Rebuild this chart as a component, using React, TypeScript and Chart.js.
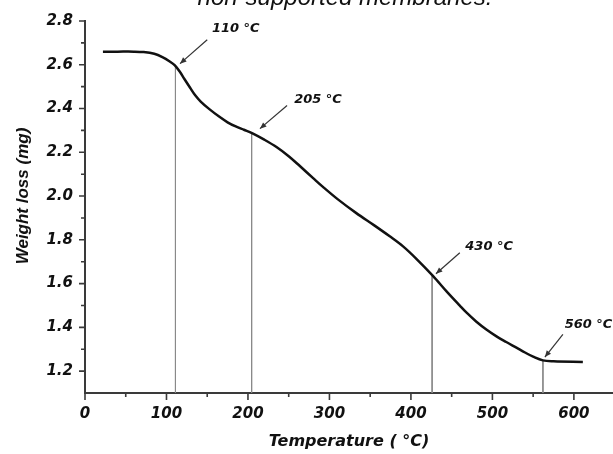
import React, { useEffect, useRef } from "react";
import { Chart, registerables } from "chart.js";

Chart.register(...registerables);

// TGA curve (temperature in °C, weight in mg)
const temperature = [22, 40, 60, 72, 85, 95, 104, 110, 116, 122, 129, 135, 142, 153, 165, 175, 185, 195, 205, 220, 235, 250, 264, 280, 292, 310, 333, 355, 374, 390, 407, 427, 444, 460, 468, 480, 493, 505, 517, 530, 540, 550, 562, 575, 611];
const weight = [2.66, 2.66, 2.66, 2.658, 2.65, 2.635, 2.615, 2.598, 2.57, 2.535, 2.495, 2.462, 2.432, 2.396, 2.362, 2.337, 2.318, 2.303, 2.288, 2.258, 2.224, 2.182, 2.136, 2.082, 2.042, 1.986, 1.922, 1.866, 1.816, 1.771, 1.712, 1.635, 1.563, 1.499, 1.468, 1.427, 1.389, 1.359, 1.333, 1.306, 1.285, 1.266, 1.249, 1.245, 1.242];

// Marked transition temperatures
const markerTemps = [111, 204.5, 426, 562];
const markerWeights = [2.598, 2.288, 1.635, 1.249];
const markerLabels = ["110 °C", "205 °C", "430 °C", "560 °C"];
const labelTemps = [185, 286, 496, 618];
const labelWeights = [2.764, 2.441, 1.768, 1.414];
const arrowTailTemps = [150, 248, 460, 586.5];
const arrowTailWeights = [2.714, 2.414, 1.741, 1.368];
const arrowHeadTemps = [116.6, 214.7, 430.7, 564.4];
const arrowHeadWeights = [2.605, 2.308, 1.645, 1.264];

// Axes
const xMajorTicks = [0, 100, 200, 300, 400, 500, 600];
const xMinorTicks = [50, 150, 250, 350, 450, 550];
const yMajorTicks = [1.2, 1.4, 1.6, 1.8, 2.0, 2.2, 2.4, 2.6, 2.8];
const yMinorTicks = [1.3, 1.5, 1.7, 1.9, 2.1, 2.3, 2.5, 2.7];
const xMin = 0;
const xMax = 648;
const yMin = 1.1;
const yMax = 2.8;

const titleText = "non-supported membranes.";
const xTitleText = "Temperature ( °C)";
const yTitleText = "Weight loss (mg)";

const AXIS_COLOR = "#3a3a3a";
const TICK_FONT = { family: "DejaVu Sans", size: 15, weight: "bold" as const, style: "italic" as const };

const decorPlugin = {
  id: "decor",
  afterDraw(chart: any) {
    const ctx = chart.ctx as CanvasRenderingContext2D;
    const xs = chart.scales.x;
    const ys = chart.scales.y;
    const area = chart.chartArea;
    ctx.save();

    // tick marks
    ctx.strokeStyle = AXIS_COLOR;
    ctx.lineWidth = 1.6;
    ctx.beginPath();
    xMajorTicks.forEach((v) => {
      const px = xs.getPixelForValue(v);
      ctx.moveTo(px, area.bottom);
      ctx.lineTo(px, area.bottom + 7);
    });
    xMinorTicks.forEach((v) => {
      const px = xs.getPixelForValue(v);
      ctx.moveTo(px, area.bottom);
      ctx.lineTo(px, area.bottom + 4);
    });
    yMajorTicks.forEach((v) => {
      const py = ys.getPixelForValue(v);
      ctx.moveTo(area.left - 6, py);
      ctx.lineTo(area.left, py);
    });
    yMinorTicks.forEach((v) => {
      const py = ys.getPixelForValue(v);
      ctx.moveTo(area.left - 4, py);
      ctx.lineTo(area.left, py);
    });
    ctx.stroke();

    // arrows
    ctx.strokeStyle = "#333";
    ctx.fillStyle = "#333";
    ctx.lineWidth = 1.2;
    for (let i = 0; i < markerLabels.length; i++) {
      const x1 = xs.getPixelForValue(arrowTailTemps[i]);
      const y1 = ys.getPixelForValue(arrowTailWeights[i]);
      const x2 = xs.getPixelForValue(arrowHeadTemps[i]);
      const y2 = ys.getPixelForValue(arrowHeadWeights[i]);
      ctx.beginPath();
      ctx.moveTo(x1, y1);
      ctx.lineTo(x2, y2);
      ctx.stroke();
      const ang = Math.atan2(y2 - y1, x2 - x1);
      const len = 7;
      const spread = 0.4;
      ctx.beginPath();
      ctx.moveTo(x2, y2);
      ctx.lineTo(x2 - len * Math.cos(ang - spread), y2 - len * Math.sin(ang - spread));
      ctx.lineTo(x2 - len * Math.cos(ang + spread), y2 - len * Math.sin(ang + spread));
      ctx.closePath();
      ctx.fill();
    }

    // marker labels
    ctx.fillStyle = "#111";
    ctx.font = "italic bold 13px 'DejaVu Sans'";
    ctx.textAlign = "center";
    ctx.textBaseline = "middle";
    for (let i = 0; i < markerLabels.length; i++) {
      ctx.fillText(markerLabels[i], xs.getPixelForValue(labelTemps[i]), ys.getPixelForValue(labelWeights[i]));
    }

    // clipped figure title
    ctx.font = "italic 24px 'Liberation Sans'";
    ctx.textBaseline = "alphabetic";
    ctx.fillText(titleText, 345, 5);

    // y axis title
    ctx.font = "italic bold 17px 'Liberation Sans'";
    ctx.translate(23, 196);
    ctx.rotate(-Math.PI / 2);
    ctx.textBaseline = "middle";
    ctx.fillText(yTitleText, 0, 0);

    ctx.restore();
  },
};

export default function App() {
  const canvasRef = useRef<HTMLCanvasElement | null>(null);

  useEffect(() => {
    document.body.style.margin = "0";
    const canvas = canvasRef.current;
    if (!canvas) return;

    const markerDatasets = markerTemps.map((t, i) => ({
      data: [
        { x: t, y: markerWeights[i] },
        { x: t, y: yMin },
      ],
      borderColor: "#8a8a8a",
      borderWidth: 1,
      pointRadius: 0,
      fill: false,
      tension: 0,
    }));

    const chart = new Chart(canvas, {
      type: "line",
      data: {
        datasets: [
          {
            data: temperature.map((t, i) => ({ x: t, y: weight[i] })),
            borderColor: "#111",
            borderWidth: 2.5,
            pointRadius: 0,
            fill: false,
            tension: 0.35,
          },
          ...markerDatasets,
        ],
      },
      options: {
        responsive: false,
        animation: false,
        layout: { padding: { top: 20, right: 0, left: 0, bottom: 0 } },
        plugins: {
          legend: { display: false },
          tooltip: { enabled: false },
          title: { display: false },
        },
        scales: {
          x: {
            type: "linear",
            min: xMin,
            max: xMax,
            afterBuildTicks: (scale: any) => {
              scale.ticks = xMajorTicks.map((v) => ({ value: v }));
            },
            afterFit: (scale: any) => {
              scale.height = 61;
            },
            grid: { display: false, drawTicks: false },
            border: { display: true, color: AXIS_COLOR, width: 2 },
            ticks: {
              font: TICK_FONT,
              color: "#111",
              padding: 12,
              maxRotation: 0,
              autoSkip: false,
              callback: (v: any) => String(v),
            },
            title: {
              display: true,
              text: xTitleText,
              color: "#111",
              font: { family: "DejaVu Sans", size: 16, weight: "bold", style: "italic" },
              padding: { top: 0, bottom: 3 },
            },
          },
          y: {
            type: "linear",
            min: yMin,
            max: yMax,
            afterBuildTicks: (scale: any) => {
              scale.ticks = yMajorTicks.map((v) => ({ value: v }));
            },
            afterFit: (scale: any) => {
              scale.width = 85;
            },
            grid: { display: false, drawTicks: false },
            border: { display: true, color: AXIS_COLOR, width: 2 },
            ticks: {
              font: TICK_FONT,
              color: "#111",
              padding: 12,
              autoSkip: false,
              callback: (v: any) => Number(v).toFixed(1),
            },
          },
        },
      },
      plugins: [decorPlugin],
    } as any);

    return () => chart.destroy();
  }, []);

  return (
    <div style={{ width: 613, height: 454, background: "#fff" }}>
      <canvas ref={canvasRef} width={613} height={454} style={{ display: "block" }} />
    </div>
  );
}
